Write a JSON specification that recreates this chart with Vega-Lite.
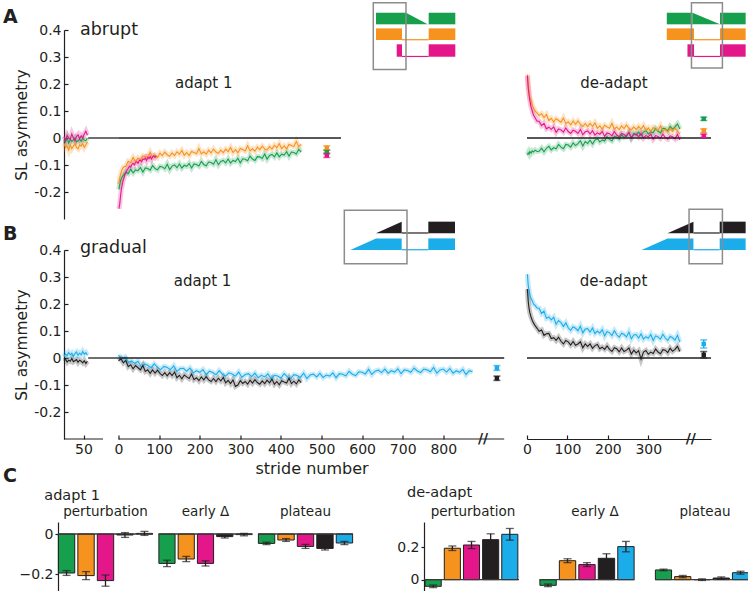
{
"$schema":"https://vega.github.io/schema/vega-lite/v6.json",
"padding":{"left":2,"top":1,"right":0,"bottom":0},
"config":{"font":"DejaVu Sans","view":{"stroke":null},"legend":{"disable":true},
"axis":{"grid":false,"domainColor":"#231f20","tickColor":"#231f20","labelColor":"#231f20","titleColor":"#231f20","labelFont":"DejaVu Sans","titleFont":"DejaVu Sans","labelFontSize":14,"titleFontSize":15.5,"titleFontWeight":"normal","domainWidth":1.2,"tickWidth":1.2}},
"datasets":{
"baseA":[{"c":"g","x":25,"y":-0.01},{"c":"g","x":27,"y":-0.015},{"c":"g","x":29,"y":0.0},{"c":"g","x":31,"y":-0.02},{"c":"g","x":33,"y":-0.005},{"c":"g","x":35,"y":-0.012},{"c":"g","x":37,"y":-0.008},{"c":"g","x":39,"y":0.0},{"c":"g","x":41,"y":-0.015},{"c":"g","x":43,"y":-0.01},{"c":"g","x":45,"y":-0.005},{"c":"g","x":47,"y":-0.012},{"c":"g","x":49,"y":0.0},{"c":"g","x":51,"y":-0.008},{"c":"g","x":53,"y":-0.01},{"c":"g","x":55,"y":0.0},
{"c":"o","x":25,"y":-0.02},{"c":"o","x":27,"y":-0.035},{"c":"o","x":29,"y":-0.03},{"c":"o","x":31,"y":-0.045},{"c":"o","x":33,"y":-0.025},{"c":"o","x":35,"y":-0.04},{"c":"o","x":37,"y":-0.03},{"c":"o","x":39,"y":-0.02},{"c":"o","x":41,"y":-0.035},{"c":"o","x":43,"y":-0.04},{"c":"o","x":45,"y":-0.025},{"c":"o","x":47,"y":-0.03},{"c":"o","x":49,"y":-0.02},{"c":"o","x":51,"y":-0.035},{"c":"o","x":53,"y":-0.025},{"c":"o","x":55,"y":-0.015},
{"c":"m","x":25,"y":0.005},{"c":"m","x":27,"y":-0.01},{"c":"m","x":29,"y":0.01},{"c":"m","x":31,"y":0.0},{"c":"m","x":33,"y":-0.005},{"c":"m","x":35,"y":0.015},{"c":"m","x":37,"y":0.0},{"c":"m","x":39,"y":-0.01},{"c":"m","x":41,"y":0.005},{"c":"m","x":43,"y":0.012},{"c":"m","x":45,"y":-0.003},{"c":"m","x":47,"y":0.008},{"c":"m","x":49,"y":0.0},{"c":"m","x":51,"y":0.015},{"c":"m","x":53,"y":0.025},{"c":"m","x":55,"y":0.01}],
"baseB":[{"c":"k","x":25,"y":-0.01},{"c":"k","x":27,"y":-0.005},{"c":"k","x":29,"y":-0.015},{"c":"k","x":31,"y":-0.008},{"c":"k","x":33,"y":-0.012},{"c":"k","x":35,"y":-0.002},{"c":"k","x":37,"y":-0.014},{"c":"k","x":39,"y":-0.01},{"c":"k","x":41,"y":-0.006},{"c":"k","x":43,"y":-0.016},{"c":"k","x":45,"y":-0.008},{"c":"k","x":47,"y":-0.012},{"c":"k","x":49,"y":-0.018},{"c":"k","x":51,"y":-0.01},{"c":"k","x":53,"y":-0.02},{"c":"k","x":55,"y":-0.012},
{"c":"b","x":25,"y":0.005},{"c":"b","x":27,"y":0.015},{"c":"b","x":29,"y":0.008},{"c":"b","x":31,"y":0.02},{"c":"b","x":33,"y":0.012},{"c":"b","x":35,"y":0.018},{"c":"b","x":37,"y":0.006},{"c":"b","x":39,"y":0.016},{"c":"b","x":41,"y":0.022},{"c":"b","x":43,"y":0.01},{"c":"b","x":45,"y":0.018},{"c":"b","x":47,"y":0.012},{"c":"b","x":49,"y":0.024},{"c":"b","x":51,"y":0.014},{"c":"b","x":53,"y":0.02},{"c":"b","x":55,"y":0.01}],
"adA":[{"c":"g","x":1,"y":-0.19},{"c":"g","x":3,"y":-0.172},{"c":"g","x":5,"y":-0.158},{"c":"g","x":8,"y":-0.147},{"c":"g","x":12,"y":-0.138},{"c":"g","x":18,"y":-0.126},{"c":"g","x":24,"y":-0.132},{"c":"g","x":30,"y":-0.116},{"c":"g","x":36,"y":-0.129},{"c":"g","x":42,"y":-0.118},{"c":"g","x":48,"y":-0.121},{"c":"g","x":54,"y":-0.109},{"c":"g","x":60,"y":-0.126},{"c":"g","x":66,"y":-0.111},{"c":"g","x":72,"y":-0.113},{"c":"g","x":78,"y":-0.119},{"c":"g","x":84,"y":-0.102},{"c":"g","x":90,"y":-0.113},{"c":"g","x":96,"y":-0.118},{"c":"g","x":102,"y":-0.105},{"c":"g","x":108,"y":-0.107},{"c":"g","x":114,"y":-0.114},{"c":"g","x":120,"y":-0.097},{"c":"g","x":126,"y":-0.117},{"c":"g","x":132,"y":-0.104},{"c":"g","x":138,"y":-0.1},{"c":"g","x":144,"y":-0.11},{"c":"g","x":150,"y":-0.096},{"c":"g","x":156,"y":-0.111},{"c":"g","x":162,"y":-0.101},{"c":"g","x":168,"y":-0.105},{"c":"g","x":174,"y":-0.094},{"c":"g","x":180,"y":-0.111},{"c":"g","x":186,"y":-0.096},{"c":"g","x":192,"y":-0.098},{"c":"g","x":198,"y":-0.104},{"c":"g","x":204,"y":-0.087},{"c":"g","x":210,"y":-0.098},{"c":"g","x":216,"y":-0.103},{"c":"g","x":222,"y":-0.089},{"c":"g","x":228,"y":-0.091},{"c":"g","x":234,"y":-0.097},{"c":"g","x":240,"y":-0.08},{"c":"g","x":246,"y":-0.099},{"c":"g","x":252,"y":-0.087},{"c":"g","x":258,"y":-0.083},{"c":"g","x":264,"y":-0.092},{"c":"g","x":270,"y":-0.078},{"c":"g","x":276,"y":-0.093},{"c":"g","x":282,"y":-0.083},{"c":"g","x":288,"y":-0.087},{"c":"g","x":294,"y":-0.075},{"c":"g","x":300,"y":-0.092},{"c":"g","x":306,"y":-0.077},{"c":"g","x":312,"y":-0.079},{"c":"g","x":318,"y":-0.084},{"c":"g","x":324,"y":-0.067},{"c":"g","x":330,"y":-0.078},{"c":"g","x":336,"y":-0.083},{"c":"g","x":342,"y":-0.069},{"c":"g","x":348,"y":-0.07},{"c":"g","x":354,"y":-0.076},{"c":"g","x":360,"y":-0.059},{"c":"g","x":366,"y":-0.078},{"c":"g","x":372,"y":-0.065},{"c":"g","x":378,"y":-0.061},{"c":"g","x":384,"y":-0.07},{"c":"g","x":390,"y":-0.055},{"c":"g","x":396,"y":-0.07},{"c":"g","x":402,"y":-0.06},{"c":"g","x":408,"y":-0.063},{"c":"g","x":414,"y":-0.051},{"c":"g","x":420,"y":-0.067},{"c":"g","x":426,"y":-0.052},{"c":"g","x":432,"y":-0.054},{"c":"g","x":438,"y":-0.059},{"c":"g","x":444,"y":-0.042},{"c":"g","x":450,"y":-0.052},
{"c":"o","x":1,"y":-0.172},{"c":"o","x":3,"y":-0.15},{"c":"o","x":5,"y":-0.135},{"c":"o","x":8,"y":-0.12},{"c":"o","x":12,"y":-0.108},{"c":"o","x":18,"y":-0.105},{"c":"o","x":24,"y":-0.086},{"c":"o","x":30,"y":-0.091},{"c":"o","x":36,"y":-0.072},{"c":"o","x":42,"y":-0.087},{"c":"o","x":48,"y":-0.074},{"c":"o","x":54,"y":-0.083},{"c":"o","x":60,"y":-0.066},{"c":"o","x":66,"y":-0.069},{"c":"o","x":72,"y":-0.072},{"c":"o","x":78,"y":-0.053},{"c":"o","x":84,"y":-0.072},{"c":"o","x":90,"y":-0.063},{"c":"o","x":96,"y":-0.072},{"c":"o","x":102,"y":-0.056},{"c":"o","x":108,"y":-0.065},{"c":"o","x":114,"y":-0.052},{"c":"o","x":120,"y":-0.062},{"c":"o","x":126,"y":-0.068},{"c":"o","x":132,"y":-0.055},{"c":"o","x":138,"y":-0.065},{"c":"o","x":144,"y":-0.051},{"c":"o","x":150,"y":-0.06},{"c":"o","x":156,"y":-0.046},{"c":"o","x":162,"y":-0.064},{"c":"o","x":168,"y":-0.054},{"c":"o","x":174,"y":-0.065},{"c":"o","x":180,"y":-0.05},{"c":"o","x":186,"y":-0.054},{"c":"o","x":192,"y":-0.058},{"c":"o","x":198,"y":-0.039},{"c":"o","x":204,"y":-0.059},{"c":"o","x":210,"y":-0.051},{"c":"o","x":216,"y":-0.06},{"c":"o","x":222,"y":-0.045},{"c":"o","x":228,"y":-0.055},{"c":"o","x":234,"y":-0.041},{"c":"o","x":240,"y":-0.052},{"c":"o","x":246,"y":-0.057},{"c":"o","x":252,"y":-0.045},{"c":"o","x":258,"y":-0.054},{"c":"o","x":264,"y":-0.041},{"c":"o","x":270,"y":-0.05},{"c":"o","x":276,"y":-0.035},{"c":"o","x":282,"y":-0.054},{"c":"o","x":288,"y":-0.043},{"c":"o","x":294,"y":-0.055},{"c":"o","x":300,"y":-0.039},{"c":"o","x":306,"y":-0.043},{"c":"o","x":312,"y":-0.048},{"c":"o","x":318,"y":-0.029},{"c":"o","x":324,"y":-0.048},{"c":"o","x":330,"y":-0.04},{"c":"o","x":336,"y":-0.049},{"c":"o","x":342,"y":-0.034},{"c":"o","x":348,"y":-0.043},{"c":"o","x":354,"y":-0.03},{"c":"o","x":360,"y":-0.04},{"c":"o","x":366,"y":-0.045},{"c":"o","x":372,"y":-0.032},{"c":"o","x":378,"y":-0.041},{"c":"o","x":384,"y":-0.027},{"c":"o","x":390,"y":-0.036},{"c":"o","x":396,"y":-0.021},{"c":"o","x":402,"y":-0.04},{"c":"o","x":408,"y":-0.029},{"c":"o","x":414,"y":-0.04},{"c":"o","x":420,"y":-0.024},{"c":"o","x":426,"y":-0.028},{"c":"o","x":432,"y":-0.032},{"c":"o","x":438,"y":-0.013},{"c":"o","x":444,"y":-0.032},{"c":"o","x":450,"y":-0.023},
{"c":"m","x":1,"y":-0.262},{"c":"m","x":3,"y":-0.245},{"c":"m","x":5,"y":-0.215},{"c":"m","x":7,"y":-0.19},{"c":"m","x":9,"y":-0.175},{"c":"m","x":11,"y":-0.16},{"c":"m","x":13,"y":-0.15},{"c":"m","x":15,"y":-0.138},{"c":"m","x":18,"y":-0.13},{"c":"m","x":21,"y":-0.118},{"c":"m","x":24,"y":-0.112},{"c":"m","x":27,"y":-0.104},{"c":"m","x":30,"y":-0.108},{"c":"m","x":33,"y":-0.098},{"c":"m","x":36,"y":-0.094},{"c":"m","x":39,"y":-0.1},{"c":"m","x":42,"y":-0.09},{"c":"m","x":45,"y":-0.088},{"c":"m","x":48,"y":-0.094},{"c":"m","x":51,"y":-0.084},{"c":"m","x":54,"y":-0.082},{"c":"m","x":57,"y":-0.088},{"c":"m","x":60,"y":-0.078},{"c":"m","x":63,"y":-0.08},{"c":"m","x":66,"y":-0.074},{"c":"m","x":69,"y":-0.084},{"c":"m","x":72,"y":-0.072},{"c":"m","x":75,"y":-0.076},{"c":"m","x":78,"y":-0.068},{"c":"m","x":81,"y":-0.078},{"c":"m","x":84,"y":-0.07},{"c":"m","x":87,"y":-0.066},{"c":"m","x":90,"y":-0.072},{"c":"m","x":93,"y":-0.066}],
"deA":[{"c":"g","x":1,"y":-0.062},{"c":"g","x":3,"y":-0.055},{"c":"g","x":5,"y":-0.06},{"c":"g","x":7,"y":-0.05},{"c":"g","x":10,"y":-0.056},{"c":"g","x":13,"y":-0.048},{"c":"g","x":16,"y":-0.052},{"c":"g","x":20,"y":-0.045},{"c":"g","x":25,"y":-0.05},{"c":"g","x":30,"y":-0.049},{"c":"g","x":36,"y":-0.038},{"c":"g","x":42,"y":-0.051},{"c":"g","x":48,"y":-0.038},{"c":"g","x":54,"y":-0.031},{"c":"g","x":60,"y":-0.044},{"c":"g","x":66,"y":-0.036},{"c":"g","x":72,"y":-0.04},{"c":"g","x":78,"y":-0.024},{"c":"g","x":84,"y":-0.034},{"c":"g","x":90,"y":-0.04},{"c":"g","x":96,"y":-0.024},{"c":"g","x":102,"y":-0.026},{"c":"g","x":108,"y":-0.034},{"c":"g","x":114,"y":-0.018},{"c":"g","x":120,"y":-0.028},{"c":"g","x":126,"y":-0.021},{"c":"g","x":132,"y":-0.01},{"c":"g","x":138,"y":-0.03},{"c":"g","x":144,"y":-0.013},{"c":"g","x":150,"y":-0.02},{"c":"g","x":156,"y":-0.008},{"c":"g","x":162,"y":-0.022},{"c":"g","x":168,"y":-0.008},{"c":"g","x":174,"y":-0.002},{"c":"g","x":180,"y":-0.015},{"c":"g","x":186,"y":-0.007},{"c":"g","x":192,"y":-0.011},{"c":"g","x":198,"y":0.005},{"c":"g","x":204,"y":-0.005},{"c":"g","x":210,"y":-0.011},{"c":"g","x":216,"y":0.006},{"c":"g","x":222,"y":0.004},{"c":"g","x":228,"y":-0.004},{"c":"g","x":234,"y":0.012},{"c":"g","x":240,"y":0.002},{"c":"g","x":246,"y":0.009},{"c":"g","x":252,"y":0.02},{"c":"g","x":258,"y":0.0},{"c":"g","x":264,"y":0.017},{"c":"g","x":270,"y":0.01},{"c":"g","x":276,"y":0.022},{"c":"g","x":282,"y":0.008},{"c":"g","x":288,"y":0.022},{"c":"g","x":294,"y":0.028},{"c":"g","x":300,"y":0.015},{"c":"g","x":306,"y":0.023},{"c":"g","x":312,"y":0.019},{"c":"g","x":318,"y":0.035},{"c":"g","x":324,"y":0.025},{"c":"g","x":330,"y":0.019},{"c":"g","x":336,"y":0.036},{"c":"g","x":342,"y":0.034},{"c":"g","x":348,"y":0.026},{"c":"g","x":354,"y":0.043},{"c":"g","x":360,"y":0.033},{"c":"g","x":366,"y":0.041},{"c":"g","x":372,"y":0.052},{"c":"g","x":378,"y":0.033},
{"c":"o","x":1,"y":0.235},{"c":"o","x":3,"y":0.2},{"c":"o","x":5,"y":0.175},{"c":"o","x":7,"y":0.15},{"c":"o","x":10,"y":0.14},{"c":"o","x":13,"y":0.12},{"c":"o","x":16,"y":0.112},{"c":"o","x":20,"y":0.1},{"c":"o","x":25,"y":0.092},{"c":"o","x":30,"y":0.083},{"c":"o","x":36,"y":0.09},{"c":"o","x":42,"y":0.076},{"c":"o","x":48,"y":0.087},{"c":"o","x":54,"y":0.065},{"c":"o","x":60,"y":0.073},{"c":"o","x":66,"y":0.059},{"c":"o","x":72,"y":0.072},{"c":"o","x":78,"y":0.065},{"c":"o","x":84,"y":0.058},{"c":"o","x":90,"y":0.074},{"c":"o","x":96,"y":0.053},{"c":"o","x":102,"y":0.06},{"c":"o","x":108,"y":0.049},{"c":"o","x":114,"y":0.063},{"c":"o","x":120,"y":0.051},{"c":"o","x":126,"y":0.063},{"c":"o","x":132,"y":0.051},{"c":"o","x":138,"y":0.043},{"c":"o","x":144,"y":0.053},{"c":"o","x":150,"y":0.042},{"c":"o","x":156,"y":0.054},{"c":"o","x":162,"y":0.043},{"c":"o","x":168,"y":0.056},{"c":"o","x":174,"y":0.036},{"c":"o","x":180,"y":0.045},{"c":"o","x":186,"y":0.033},{"c":"o","x":192,"y":0.047},{"c":"o","x":198,"y":0.041},{"c":"o","x":204,"y":0.036},{"c":"o","x":210,"y":0.054},{"c":"o","x":216,"y":0.033},{"c":"o","x":222,"y":0.041},{"c":"o","x":228,"y":0.031},{"c":"o","x":234,"y":0.045},{"c":"o","x":240,"y":0.035},{"c":"o","x":246,"y":0.048},{"c":"o","x":252,"y":0.036},{"c":"o","x":258,"y":0.03},{"c":"o","x":264,"y":0.041},{"c":"o","x":270,"y":0.031},{"c":"o","x":276,"y":0.043},{"c":"o","x":282,"y":0.033},{"c":"o","x":288,"y":0.046},{"c":"o","x":294,"y":0.027},{"c":"o","x":300,"y":0.037},{"c":"o","x":306,"y":0.024},{"c":"o","x":312,"y":0.039},{"c":"o","x":318,"y":0.033},{"c":"o","x":324,"y":0.028},{"c":"o","x":330,"y":0.045},{"c":"o","x":336,"y":0.025},{"c":"o","x":342,"y":0.032},{"c":"o","x":348,"y":0.022},{"c":"o","x":354,"y":0.036},{"c":"o","x":360,"y":0.025},{"c":"o","x":366,"y":0.037},{"c":"o","x":372,"y":0.024},{"c":"o","x":378,"y":0.015},
{"c":"m","x":1,"y":0.23},{"c":"m","x":3,"y":0.185},{"c":"m","x":5,"y":0.16},{"c":"m","x":7,"y":0.14},{"c":"m","x":10,"y":0.115},{"c":"m","x":13,"y":0.1},{"c":"m","x":16,"y":0.085},{"c":"m","x":20,"y":0.075},{"c":"m","x":25,"y":0.062},{"c":"m","x":30,"y":0.062},{"c":"m","x":36,"y":0.046},{"c":"m","x":42,"y":0.054},{"c":"m","x":48,"y":0.034},{"c":"m","x":54,"y":0.04},{"c":"m","x":60,"y":0.032},{"c":"m","x":66,"y":0.041},{"c":"m","x":72,"y":0.021},{"c":"m","x":78,"y":0.034},{"c":"m","x":84,"y":0.03},{"c":"m","x":90,"y":0.022},{"c":"m","x":96,"y":0.037},{"c":"m","x":102,"y":0.024},{"c":"m","x":108,"y":0.017},{"c":"m","x":114,"y":0.029},{"c":"m","x":120,"y":0.025},{"c":"m","x":126,"y":0.017},{"c":"m","x":132,"y":0.032},{"c":"m","x":138,"y":0.012},{"c":"m","x":144,"y":0.023},{"c":"m","x":150,"y":0.026},{"c":"m","x":156,"y":0.015},{"c":"m","x":162,"y":0.027},{"c":"m","x":168,"y":0.011},{"c":"m","x":174,"y":0.019},{"c":"m","x":180,"y":0.014},{"c":"m","x":186,"y":0.024},{"c":"m","x":192,"y":0.006},{"c":"m","x":198,"y":0.019},{"c":"m","x":204,"y":0.016},{"c":"m","x":210,"y":0.008},{"c":"m","x":216,"y":0.024},{"c":"m","x":222,"y":0.011},{"c":"m","x":228,"y":0.005},{"c":"m","x":234,"y":0.017},{"c":"m","x":240,"y":0.013},{"c":"m","x":246,"y":0.006},{"c":"m","x":252,"y":0.021},{"c":"m","x":258,"y":0.001},{"c":"m","x":264,"y":0.012},{"c":"m","x":270,"y":0.015},{"c":"m","x":276,"y":0.004},{"c":"m","x":282,"y":0.017},{"c":"m","x":288,"y":0.0},{"c":"m","x":294,"y":0.009},{"c":"m","x":300,"y":0.004},{"c":"m","x":306,"y":0.014},{"c":"m","x":312,"y":-0.004},{"c":"m","x":318,"y":0.009},{"c":"m","x":324,"y":0.006},{"c":"m","x":330,"y":-0.001},{"c":"m","x":336,"y":0.014},{"c":"m","x":342,"y":0.002},{"c":"m","x":348,"y":-0.004},{"c":"m","x":354,"y":0.008},{"c":"m","x":360,"y":0.005},{"c":"m","x":366,"y":-0.003},{"c":"m","x":372,"y":0.013},{"c":"m","x":378,"y":-0.007}],
"adB":[{"c":"b","x":0,"y":0.011},{"c":"b","x":8,"y":-0.003},{"c":"b","x":16,"y":0.004},{"c":"b","x":24,"y":-0.017},{"c":"b","x":32,"y":-0.011},{"c":"b","x":40,"y":-0.02},{"c":"b","x":48,"y":-0.012},{"c":"b","x":56,"y":-0.033},{"c":"b","x":64,"y":-0.022},{"c":"b","x":72,"y":-0.027},{"c":"b","x":80,"y":-0.036},{"c":"b","x":88,"y":-0.022},{"c":"b","x":96,"y":-0.035},{"c":"b","x":104,"y":-0.043},{"c":"b","x":112,"y":-0.031},{"c":"b","x":120,"y":-0.035},{"c":"b","x":128,"y":-0.043},{"c":"b","x":136,"y":-0.029},{"c":"b","x":144,"y":-0.05},{"c":"b","x":152,"y":-0.039},{"c":"b","x":160,"y":-0.038},{"c":"b","x":168,"y":-0.049},{"c":"b","x":176,"y":-0.037},{"c":"b","x":184,"y":-0.055},{"c":"b","x":192,"y":-0.047},{"c":"b","x":200,"y":-0.053},{"c":"b","x":208,"y":-0.043},{"c":"b","x":216,"y":-0.062},{"c":"b","x":224,"y":-0.049},{"c":"b","x":232,"y":-0.054},{"c":"b","x":240,"y":-0.062},{"c":"b","x":248,"y":-0.047},{"c":"b","x":256,"y":-0.06},{"c":"b","x":264,"y":-0.067},{"c":"b","x":272,"y":-0.055},{"c":"b","x":280,"y":-0.059},{"c":"b","x":288,"y":-0.067},{"c":"b","x":296,"y":-0.052},{"c":"b","x":304,"y":-0.072},{"c":"b","x":312,"y":-0.061},{"c":"b","x":320,"y":-0.058},{"c":"b","x":328,"y":-0.069},{"c":"b","x":336,"y":-0.056},{"c":"b","x":344,"y":-0.073},{"c":"b","x":352,"y":-0.064},{"c":"b","x":360,"y":-0.07},{"c":"b","x":368,"y":-0.059},{"c":"b","x":376,"y":-0.077},{"c":"b","x":384,"y":-0.064},{"c":"b","x":392,"y":-0.067},{"c":"b","x":400,"y":-0.074},{"c":"b","x":408,"y":-0.058},{"c":"b","x":416,"y":-0.07},{"c":"b","x":424,"y":-0.076},{"c":"b","x":432,"y":-0.062},{"c":"b","x":440,"y":-0.065},{"c":"b","x":448,"y":-0.072},{"c":"b","x":456,"y":-0.056},{"c":"b","x":464,"y":-0.076},{"c":"b","x":472,"y":-0.063},{"c":"b","x":480,"y":-0.06},{"c":"b","x":488,"y":-0.07},{"c":"b","x":496,"y":-0.057},{"c":"b","x":504,"y":-0.072},{"c":"b","x":512,"y":-0.063},{"c":"b","x":520,"y":-0.067},{"c":"b","x":528,"y":-0.055},{"c":"b","x":536,"y":-0.073},{"c":"b","x":544,"y":-0.058},{"c":"b","x":552,"y":-0.06},{"c":"b","x":560,"y":-0.066},{"c":"b","x":568,"y":-0.049},{"c":"b","x":576,"y":-0.06},{"c":"b","x":584,"y":-0.065},{"c":"b","x":592,"y":-0.051},{"c":"b","x":600,"y":-0.053},{"c":"b","x":608,"y":-0.059},{"c":"b","x":616,"y":-0.042},{"c":"b","x":624,"y":-0.061},{"c":"b","x":632,"y":-0.049},{"c":"b","x":640,"y":-0.045},{"c":"b","x":648,"y":-0.054},{"c":"b","x":656,"y":-0.041},{"c":"b","x":664,"y":-0.056},{"c":"b","x":672,"y":-0.047},{"c":"b","x":680,"y":-0.052},{"c":"b","x":688,"y":-0.04},{"c":"b","x":696,"y":-0.058},{"c":"b","x":704,"y":-0.044},{"c":"b","x":712,"y":-0.046},{"c":"b","x":720,"y":-0.053},{"c":"b","x":728,"y":-0.037},{"c":"b","x":736,"y":-0.048},{"c":"b","x":744,"y":-0.054},{"c":"b","x":752,"y":-0.041},{"c":"b","x":760,"y":-0.044},{"c":"b","x":768,"y":-0.051},{"c":"b","x":776,"y":-0.035},{"c":"b","x":784,"y":-0.056},{"c":"b","x":792,"y":-0.044},{"c":"b","x":800,"y":-0.041},{"c":"b","x":808,"y":-0.052},{"c":"b","x":816,"y":-0.039},{"c":"b","x":824,"y":-0.056},{"c":"b","x":832,"y":-0.047},{"c":"b","x":840,"y":-0.053},{"c":"b","x":848,"y":-0.042},{"c":"b","x":856,"y":-0.061},{"c":"b","x":864,"y":-0.047},{"c":"b","x":872,"y":-0.051},
{"c":"k","x":0,"y":-0.01},{"c":"k","x":6,"y":-0.003},{"c":"k","x":12,"y":-0.018},{"c":"k","x":18,"y":-0.009},{"c":"k","x":24,"y":-0.032},{"c":"k","x":30,"y":-0.025},{"c":"k","x":36,"y":-0.04},{"c":"k","x":42,"y":-0.028},{"c":"k","x":48,"y":-0.036},{"c":"k","x":54,"y":-0.044},{"c":"k","x":60,"y":-0.028},{"c":"k","x":66,"y":-0.05},{"c":"k","x":72,"y":-0.044},{"c":"k","x":78,"y":-0.057},{"c":"k","x":84,"y":-0.044},{"c":"k","x":90,"y":-0.056},{"c":"k","x":96,"y":-0.045},{"c":"k","x":102,"y":-0.057},{"c":"k","x":108,"y":-0.065},{"c":"k","x":114,"y":-0.054},{"c":"k","x":120,"y":-0.066},{"c":"k","x":126,"y":-0.054},{"c":"k","x":132,"y":-0.065},{"c":"k","x":138,"y":-0.052},{"c":"k","x":144,"y":-0.073},{"c":"k","x":150,"y":-0.064},{"c":"k","x":156,"y":-0.077},{"c":"k","x":162,"y":-0.063},{"c":"k","x":168,"y":-0.07},{"c":"k","x":174,"y":-0.076},{"c":"k","x":180,"y":-0.059},{"c":"k","x":186,"y":-0.08},{"c":"k","x":192,"y":-0.073},{"c":"k","x":198,"y":-0.084},{"c":"k","x":204,"y":-0.07},{"c":"k","x":210,"y":-0.081},{"c":"k","x":216,"y":-0.069},{"c":"k","x":222,"y":-0.081},{"c":"k","x":228,"y":-0.087},{"c":"k","x":234,"y":-0.076},{"c":"k","x":240,"y":-0.087},{"c":"k","x":246,"y":-0.075},{"c":"k","x":252,"y":-0.085},{"c":"k","x":258,"y":-0.072},{"c":"k","x":264,"y":-0.092},{"c":"k","x":270,"y":-0.083},{"c":"k","x":276,"y":-0.095},{"c":"k","x":282,"y":-0.081},{"c":"k","x":288,"y":-0.105},{"c":"k","x":294,"y":-0.1},{"c":"k","x":300,"y":-0.084},{"c":"k","x":306,"y":-0.094},{"c":"k","x":312,"y":-0.087},{"c":"k","x":318,"y":-0.097},{"c":"k","x":324,"y":-0.082},{"c":"k","x":330,"y":-0.093},{"c":"k","x":336,"y":-0.08},{"c":"k","x":342,"y":-0.091},{"c":"k","x":348,"y":-0.097},{"c":"k","x":354,"y":-0.085},{"c":"k","x":360,"y":-0.095},{"c":"k","x":366,"y":-0.082},{"c":"k","x":372,"y":-0.092},{"c":"k","x":378,"y":-0.078},{"c":"k","x":384,"y":-0.097},{"c":"k","x":390,"y":-0.087},{"c":"k","x":396,"y":-0.099},{"c":"k","x":402,"y":-0.084},{"c":"k","x":408,"y":-0.089},{"c":"k","x":414,"y":-0.093},{"c":"k","x":420,"y":-0.075},{"c":"k","x":426,"y":-0.095},{"c":"k","x":432,"y":-0.086},{"c":"k","x":438,"y":-0.096},{"c":"k","x":444,"y":-0.081},{"c":"k","x":450,"y":-0.091}],
"deB":[{"c":"b","x":1,"y":0.31},{"c":"b","x":3,"y":0.27},{"c":"b","x":5,"y":0.25},{"c":"b","x":7,"y":0.235},{"c":"b","x":10,"y":0.22},{"c":"b","x":13,"y":0.212},{"c":"b","x":16,"y":0.2},{"c":"b","x":20,"y":0.195},{"c":"b","x":25,"y":0.185},{"c":"b","x":30,"y":0.184},{"c":"b","x":36,"y":0.165},{"c":"b","x":42,"y":0.174},{"c":"b","x":48,"y":0.147},{"c":"b","x":54,"y":0.152},{"c":"b","x":60,"y":0.141},{"c":"b","x":66,"y":0.151},{"c":"b","x":72,"y":0.125},{"c":"b","x":78,"y":0.139},{"c":"b","x":84,"y":0.131},{"c":"b","x":90,"y":0.117},{"c":"b","x":96,"y":0.13},{"c":"b","x":102,"y":0.112},{"c":"b","x":108,"y":0.102},{"c":"b","x":114,"y":0.116},{"c":"b","x":120,"y":0.11},{"c":"b","x":126,"y":0.101},{"c":"b","x":132,"y":0.118},{"c":"b","x":138,"y":0.093},{"c":"b","x":144,"y":0.107},{"c":"b","x":150,"y":0.109},{"c":"b","x":156,"y":0.096},{"c":"b","x":162,"y":0.111},{"c":"b","x":168,"y":0.091},{"c":"b","x":174,"y":0.1},{"c":"b","x":180,"y":0.092},{"c":"b","x":186,"y":0.105},{"c":"b","x":192,"y":0.082},{"c":"b","x":198,"y":0.098},{"c":"b","x":204,"y":0.093},{"c":"b","x":210,"y":0.083},{"c":"b","x":216,"y":0.101},{"c":"b","x":222,"y":0.086},{"c":"b","x":228,"y":0.077},{"c":"b","x":234,"y":0.092},{"c":"b","x":240,"y":0.087},{"c":"b","x":246,"y":0.078},{"c":"b","x":252,"y":0.096},{"c":"b","x":258,"y":0.071},{"c":"b","x":264,"y":0.085},{"c":"b","x":270,"y":0.087},{"c":"b","x":276,"y":0.074},{"c":"b","x":282,"y":0.089},{"c":"b","x":288,"y":0.07},{"c":"b","x":294,"y":0.079},{"c":"b","x":300,"y":0.073},{"c":"b","x":306,"y":0.087},{"c":"b","x":312,"y":0.065},{"c":"b","x":318,"y":0.082},{"c":"b","x":324,"y":0.078},{"c":"b","x":330,"y":0.07},{"c":"b","x":336,"y":0.088},{"c":"b","x":342,"y":0.074},{"c":"b","x":348,"y":0.065},{"c":"b","x":354,"y":0.08},{"c":"b","x":360,"y":0.075},{"c":"b","x":366,"y":0.066},{"c":"b","x":372,"y":0.084},{"c":"b","x":378,"y":0.059},
{"c":"k","x":1,"y":0.255},{"c":"k","x":3,"y":0.21},{"c":"k","x":5,"y":0.185},{"c":"k","x":7,"y":0.168},{"c":"k","x":10,"y":0.152},{"c":"k","x":13,"y":0.14},{"c":"k","x":16,"y":0.13},{"c":"k","x":20,"y":0.12},{"c":"k","x":25,"y":0.11},{"c":"k","x":30,"y":0.099},{"c":"k","x":36,"y":0.104},{"c":"k","x":42,"y":0.084},{"c":"k","x":48,"y":0.09},{"c":"k","x":54,"y":0.091},{"c":"k","x":60,"y":0.072},{"c":"k","x":66,"y":0.075},{"c":"k","x":72,"y":0.065},{"c":"k","x":78,"y":0.077},{"c":"k","x":84,"y":0.062},{"c":"k","x":90,"y":0.052},{"c":"k","x":96,"y":0.065},{"c":"k","x":102,"y":0.06},{"c":"k","x":108,"y":0.048},{"c":"k","x":114,"y":0.061},{"c":"k","x":120,"y":0.047},{"c":"k","x":126,"y":0.052},{"c":"k","x":132,"y":0.06},{"c":"k","x":138,"y":0.038},{"c":"k","x":144,"y":0.052},{"c":"k","x":150,"y":0.043},{"c":"k","x":156,"y":0.052},{"c":"k","x":162,"y":0.036},{"c":"k","x":168,"y":0.046},{"c":"k","x":174,"y":0.05},{"c":"k","x":180,"y":0.034},{"c":"k","x":186,"y":0.04},{"c":"k","x":192,"y":0.032},{"c":"k","x":198,"y":0.045},{"c":"k","x":204,"y":0.032},{"c":"k","x":210,"y":0.024},{"c":"k","x":216,"y":0.038},{"c":"k","x":222,"y":0.034},{"c":"k","x":228,"y":0.023},{"c":"k","x":234,"y":0.037},{"c":"k","x":240,"y":0.024},{"c":"k","x":246,"y":0.029},{"c":"k","x":252,"y":0.037},{"c":"k","x":258,"y":0.015},{"c":"k","x":264,"y":0.029},{"c":"k","x":270,"y":0.019},{"c":"k","x":276,"y":0.027},{"c":"k","x":282,"y":-0.004},{"c":"k","x":288,"y":0.022},{"c":"k","x":294,"y":0.028},{"c":"k","x":300,"y":0.014},{"c":"k","x":306,"y":0.022},{"c":"k","x":312,"y":0.017},{"c":"k","x":318,"y":0.033},{"c":"k","x":324,"y":0.022},{"c":"k","x":330,"y":0.016},{"c":"k","x":336,"y":0.031},{"c":"k","x":342,"y":0.029},{"c":"k","x":348,"y":0.02},{"c":"k","x":354,"y":0.036},{"c":"k","x":360,"y":0.025},{"c":"k","x":366,"y":0.032},{"c":"k","x":372,"y":0.043},{"c":"k","x":378,"y":0.024}],
"cL":[{"g":"p","c":"g","v":-0.195,"e":0.012},{"g":"p","c":"o","v":-0.208,"e":0.02},{"g":"p","c":"m","v":-0.233,"e":0.028},{"g":"p","c":"k","v":-0.005,"e":0.012},{"g":"p","c":"b","v":0.003,"e":0.01},
{"g":"e","c":"g","v":-0.147,"e":0.016},{"g":"e","c":"o","v":-0.125,"e":0.013},{"g":"e","c":"m","v":-0.147,"e":0.013},{"g":"e","c":"k","v":-0.013,"e":0.007},{"g":"e","c":"b","v":-0.003,"e":0.006},
{"g":"l","c":"g","v":-0.047,"e":0.006},{"g":"l","c":"o","v":-0.03,"e":0.007},{"g":"l","c":"m","v":-0.062,"e":0.01},{"g":"l","c":"k","v":-0.072,"e":0.008},{"g":"l","c":"b","v":-0.045,"e":0.008}],
"cR":[{"g":"p","c":"g","v":-0.041,"e":0.008},{"g":"p","c":"o","v":0.194,"e":0.014},{"g":"p","c":"m","v":0.214,"e":0.022},{"g":"p","c":"k","v":0.247,"e":0.036},{"g":"p","c":"b","v":0.28,"e":0.036},
{"g":"e","c":"g","v":-0.035,"e":0.008},{"g":"e","c":"o","v":0.117,"e":0.012},{"g":"e","c":"m","v":0.093,"e":0.012},{"g":"e","c":"k","v":0.132,"e":0.028},{"g":"e","c":"b","v":0.204,"e":0.032},
{"g":"l","c":"g","v":0.06,"e":0.005},{"g":"l","c":"o","v":0.019,"e":0.007},{"g":"l","c":"m","v":0.0,"e":0.005},{"g":"l","c":"k","v":0.01,"e":0.007},{"g":"l","c":"b","v":0.043,"e":0.009}]
},
"spacing":-9,
"vconcat":[
{"columns":3,"bounds":"flush","spacing":{"row":31,"column":15.5},
"concat":[
{"width":45,"height":189,
"encoding":{"x":{"field":"x","type":"quantitative","scale":{"domain":[17.3,75],"nice":false,"zero":false},"axis":null},
"y":{"field":"y","type":"quantitative","scale":{"domain":[-0.3,0.4],"nice":false,"zero":false},"axis":{"values":[-0.2,-0.1,0,0.1,0.2,0.3,0.4],"labelExpr":"datum.value == 0 ? '0' : replace(format(datum.value, '.1f'), '\u2212', '-')","title":"SL asymmetry","tickSize":-4,"labelPadding":7,"titlePadding":4,"offset":-6}},
"color":{"field":"c","type":"nominal","scale":{"domain":["g","o","m","k","b"],"range":["#16a04e","#f6921e","#e4178a","#231f20","#1badea"]},"legend":null}},
"layer":[
{"data":{"name":"baseA"},"mark":{"type":"line","strokeWidth":5,"opacity":0.25}},
{"data":{"name":"baseA"},"mark":{"type":"line","strokeWidth":1.1}},
{"data":{"values":[{"x":56,"x2":95,"y":0}]},"mark":{"type":"rule","strokeWidth":1.3},"encoding":{"x2":{"field":"x2"},"color":{"value":"#231f20"}}},
{"data":{"values":[{"x":25,"y":0.4,"t":"A"}]},"mark":{"type":"text","fontSize":19,"fontWeight":"bold","align":"left","baseline":"alphabetic","dx":-61,"dy":-7},"encoding":{"text":{"field":"t"},"color":{"value":"#231f20"}}},
{"data":{"values":[{"x":25,"y":0.4,"t":"abrupt"}]},"mark":{"type":"text","fontSize":17.5,"align":"left","baseline":"alphabetic","dx":16,"dy":5},"encoding":{"text":{"field":"t"},"color":{"value":"#231f20"}}}
]},
{"width":393,"height":189,
"encoding":{"x":{"field":"x","type":"quantitative","scale":{"domain":[0,968],"nice":false,"zero":false},"axis":null},
"y":{"field":"y","type":"quantitative","scale":{"domain":[-0.3,0.4],"nice":false,"zero":false},"axis":null},
"color":{"field":"c","type":"nominal","scale":{"domain":["g","o","m","k","b"],"range":["#16a04e","#f6921e","#e4178a","#231f20","#1badea"]},"legend":null}},
"layer":[
{"data":{"values":[{"c":"g","x":634.2,"x2":708.1,"y":0.464,"y2":0.421},{"c":"g","x":764.0,"x2":829.6,"y":0.464,"y2":0.421},{"c":"o","x":634.2,"x2":698.3,"y":0.406,"y2":0.363},{"c":"o","x":764.0,"x2":829.6,"y":0.406,"y2":0.363},{"c":"m","x":685.2,"x2":698.3,"y":0.347,"y2":0.301},{"c":"m","x":764.0,"x2":829.6,"y":0.347,"y2":0.301}]},"mark":"rect","encoding":{"x2":{"field":"x2"},"y2":{"field":"y2"}}},
{"data":{"values":[{"id":"w","c":"g","x":708.1,"y":0.464,"y2":0.421},{"id":"w","c":"g","x":761.6,"y":0.421,"y2":0.421}]},"mark":{"type":"area","orient":"vertical"},"encoding":{"y":{"field":"y","type":"quantitative","stack":null,"axis":null},"y2":{"field":"y2"},"detail":{"field":"id"}}},
{"data":{"values":[{"c":"o","x":698.3,"x2":764.0,"y":0.364},{"c":"m","x":698.3,"x2":764.0,"y":0.302}]},"mark":{"type":"rule","strokeWidth":1.2},"encoding":{"x2":{"field":"x2"}}},
{"data":{"values":[{"x":627.6,"x2":708.1,"y":0.501,"y2":0.254}]},"mark":{"type":"rect","filled":false,"strokeWidth":1.5},"encoding":{"x2":{"field":"x2"},"y2":{"field":"y2"},"color":{"value":"#8c8c8c"}}},
{"data":{"name":"adA"},"mark":{"type":"line","strokeWidth":5,"opacity":0.25}},
{"data":{"name":"adA"},"mark":{"type":"line","strokeWidth":1.1}},
{"data":{"values":[{"x":0,"x2":548,"y":0}]},"mark":{"type":"rule","strokeWidth":1.3},"encoding":{"x2":{"field":"x2"},"color":{"value":"#231f20"}}},
{"data":{"values":[{"c":"o","x":513,"y":-0.037,"e":0.008},{"c":"g","x":513,"y":-0.052,"e":0.007},{"c":"m","x":513,"y":-0.064,"e":0.008}]},"mark":{"type":"errorbar","ticks":true,"size":7,"thickness":1.5},"encoding":{"yError":{"field":"e"}}},
{"data":{"values":[{"c":"o","x":513,"y":-0.037},{"c":"g","x":513,"y":-0.052},{"c":"m","x":513,"y":-0.064}]},"mark":{"type":"point","shape":"square","filled":true,"size":20,"opacity":1}},
{"data":{"values":[{"x":210,"y":0.184,"t":"adapt 1"}]},"mark":{"type":"text","fontSize":15,"align":"center","baseline":"alphabetic"},"encoding":{"text":{"field":"t"},"color":{"value":"#231f20"}}}
]},
{"width":184,"height":189,
"encoding":{"x":{"field":"x","type":"quantitative","scale":{"domain":[0,455],"nice":false,"zero":false},"axis":null},
"y":{"field":"y","type":"quantitative","scale":{"domain":[-0.3,0.4],"nice":false,"zero":false},"axis":null},
"color":{"field":"c","type":"nominal","scale":{"domain":["g","o","m","k","b"],"range":["#16a04e","#f6921e","#e4178a","#231f20","#1badea"]},"legend":null}},
"layer":[
{"data":{"values":[{"c":"g","x":345.7,"x2":409.1,"y":0.464,"y2":0.421},{"c":"g","x":477.3,"x2":540.7,"y":0.464,"y2":0.421},{"c":"o","x":345.7,"x2":413.1,"y":0.406,"y2":0.363},{"c":"o","x":477.3,"x2":540.7,"y":0.406,"y2":0.363},{"c":"m","x":396.8,"x2":413.1,"y":0.347,"y2":0.301},{"c":"m","x":477.3,"x2":540.7,"y":0.347,"y2":0.301}]},"mark":"rect","encoding":{"x2":{"field":"x2"},"y2":{"field":"y2"}}},
{"data":{"values":[{"id":"w","c":"g","x":409.1,"y":0.464,"y2":0.421},{"id":"w","c":"g","x":477.3,"y":0.421,"y2":0.421}]},"mark":{"type":"area","orient":"vertical"},"encoding":{"y":{"field":"y","type":"quantitative","stack":null,"axis":null},"y2":{"field":"y2"},"detail":{"field":"id"}}},
{"data":{"values":[{"c":"o","x":413.1,"x2":477.3,"y":0.364},{"c":"m","x":413.1,"x2":477.3,"y":0.302}]},"mark":{"type":"rule","strokeWidth":1.2},"encoding":{"x2":{"field":"x2"}}},
{"data":{"values":[{"x":406.7,"x2":483.2,"y":0.501,"y2":0.259}]},"mark":{"type":"rect","filled":false,"strokeWidth":1.5},"encoding":{"x2":{"field":"x2"},"y2":{"field":"y2"},"color":{"value":"#8c8c8c"}}},
{"data":{"name":"deA"},"mark":{"type":"line","strokeWidth":5,"opacity":0.25}},
{"data":{"name":"deA"},"mark":{"type":"line","strokeWidth":1.1}},
{"data":{"values":[{"x":0,"x2":455,"y":0}]},"mark":{"type":"rule","strokeWidth":1.3},"encoding":{"x2":{"field":"x2"},"color":{"value":"#231f20"}}},
{"data":{"values":[{"c":"g","x":437,"y":0.071,"e":0.006},{"c":"o","x":437,"y":0.027,"e":0.007},{"c":"m","x":437,"y":0.008,"e":0.006}]},"mark":{"type":"errorbar","ticks":true,"size":7,"thickness":1.5},"encoding":{"yError":{"field":"e"}}},
{"data":{"values":[{"c":"g","x":437,"y":0.071},{"c":"o","x":437,"y":0.027},{"c":"m","x":437,"y":0.008}]},"mark":{"type":"point","shape":"square","filled":true,"size":20,"opacity":1}},
{"data":{"values":[{"x":215,"y":0.184,"t":"de-adapt"}]},"mark":{"type":"text","fontSize":15,"align":"center","baseline":"alphabetic"},"encoding":{"text":{"field":"t"},"color":{"value":"#231f20"}}}
]},
{"width":45,"height":189,
"encoding":{"x":{"field":"x","type":"quantitative","scale":{"domain":[17.3,75],"nice":false,"zero":false},"axis":{"values":[50],"title":null,"domain":false,"tickSize":-4,"labelPadding":7,"labelFlush":false}},
"y":{"field":"y","type":"quantitative","scale":{"domain":[-0.3,0.4],"nice":false,"zero":false},"axis":{"values":[-0.2,-0.1,0,0.1,0.2,0.3,0.4],"labelExpr":"datum.value == 0 ? '0' : replace(format(datum.value, '.1f'), '\u2212', '-')","title":"SL asymmetry","tickSize":-4,"labelPadding":7,"titlePadding":4,"offset":-6}},
"color":{"field":"c","type":"nominal","scale":{"domain":["g","o","m","k","b"],"range":["#16a04e","#f6921e","#e4178a","#231f20","#1badea"]},"legend":null}},
"layer":[
{"data":{"name":"baseB"},"mark":{"type":"line","strokeWidth":5,"opacity":0.25}},
{"data":{"name":"baseB"},"mark":{"type":"line","strokeWidth":1.1}},
{"data":{"values":[{"x":56,"x2":95,"y":0}]},"mark":{"type":"rule","strokeWidth":1.3},"encoding":{"x2":{"field":"x2"},"color":{"value":"#231f20"}}},
{"data":{"values":[{"x":25,"x2":75,"y":-0.3}]},"mark":{"type":"rule","strokeWidth":1.2},"encoding":{"x2":{"field":"x2"},"color":{"value":"#231f20"}}},
{"data":{"values":[{"x":25,"y":0.4,"t":"B"}]},"mark":{"type":"text","fontSize":19,"fontWeight":"bold","align":"left","baseline":"alphabetic","dx":-61,"dy":-10},"encoding":{"text":{"field":"t"},"color":{"value":"#231f20"}}},
{"data":{"values":[{"x":25,"y":0.4,"t":"gradual"}]},"mark":{"type":"text","fontSize":17.5,"align":"left","baseline":"alphabetic","dx":16,"dy":3},"encoding":{"text":{"field":"t"},"color":{"value":"#231f20"}}}
]},
{"width":393,"height":189,
"encoding":{"x":{"field":"x","type":"quantitative","scale":{"domain":[0,968],"nice":false,"zero":false},"axis":{"values":[0,100,200,300,400,500,600,700,800],"title":"stride number","domain":false,"tickSize":-4,"labelPadding":7,"labelFlush":false,"labelOverlap":false,"titlePadding":4,"titleFontSize":16,"titleX":193}},
"y":{"field":"y","type":"quantitative","scale":{"domain":[-0.3,0.4],"nice":false,"zero":false},"axis":null},
"color":{"field":"c","type":"nominal","scale":{"domain":["g","o","m","k","b"],"range":["#16a04e","#f6921e","#e4178a","#231f20","#1badea"]},"legend":null}},
"layer":[
{"data":{"values":[{"c":"k","x":763.1,"x2":828.8,"y":0.505,"y2":0.462},{"c":"b","x":763.1,"x2":828.8,"y":0.443,"y2":0.4}]},"mark":"rect","encoding":{"x2":{"field":"x2"},"y2":{"field":"y2"}}},
{"data":{"values":[{"id":"k","c":"k","x":634.2,"y":0.462,"y2":0.462},{"id":"k","c":"k","x":697.5,"y":0.505,"y2":0.462},{"id":"b","c":"b","x":571.0,"y":0.4,"y2":0.4},{"id":"b","c":"b","x":634.2,"y":0.443,"y2":0.4},{"id":"b","c":"b","x":697.5,"y":0.443,"y2":0.4}]},"mark":{"type":"area","orient":"vertical"},"encoding":{"y":{"field":"y","type":"quantitative","stack":null,"axis":null},"y2":{"field":"y2"},"detail":{"field":"id"}}},
{"data":{"values":[{"c":"k","x":697.5,"x2":763.1,"y":0.463},{"c":"b","x":697.5,"x2":763.1,"y":0.401}]},"mark":{"type":"rule","strokeWidth":1.2},"encoding":{"x2":{"field":"x2"}}},
{"data":{"values":[{"x":556.2,"x2":710.6,"y":0.547,"y2":0.349}]},"mark":{"type":"rect","filled":false,"strokeWidth":1.5},"encoding":{"x2":{"field":"x2"},"y2":{"field":"y2"},"color":{"value":"#8c8c8c"}}},
{"data":{"name":"adB"},"mark":{"type":"line","strokeWidth":5,"opacity":0.25}},
{"data":{"name":"adB"},"mark":{"type":"line","strokeWidth":1.1}},
{"data":{"values":[{"x":0,"x2":950,"y":0}]},"mark":{"type":"rule","strokeWidth":1.3},"encoding":{"x2":{"field":"x2"},"color":{"value":"#231f20"}}},
{"data":{"values":[{"x":0,"x2":950,"y":-0.3}]},"mark":{"type":"rule","strokeWidth":1.2},"encoding":{"x2":{"field":"x2"},"color":{"value":"#231f20"}}},
{"data":{"values":[{"c":"b","x":932,"y":-0.037,"e":0.009},{"c":"k","x":932,"y":-0.075,"e":0.008}]},"mark":{"type":"errorbar","ticks":true,"size":7,"thickness":1.5},"encoding":{"yError":{"field":"e"}}},
{"data":{"values":[{"c":"b","x":932,"y":-0.037},{"c":"k","x":932,"y":-0.075}]},"mark":{"type":"point","shape":"square","filled":true,"size":20,"opacity":1}},
{"data":{"values":[{"x":207,"y":0.267,"t":"adapt 1"}]},"mark":{"type":"text","fontSize":15,"align":"center","baseline":"alphabetic"},"encoding":{"text":{"field":"t"},"color":{"value":"#231f20"}}},
{"data":{"values":[{"x":898,"y":-0.3,"t":"//"}]},"mark":{"type":"text","fontSize":14,"fontWeight":"bold","align":"center","baseline":"middle"},"encoding":{"text":{"field":"t"},"color":{"value":"#231f20"}}}
]},
{"width":184,"height":189,
"encoding":{"x":{"field":"x","type":"quantitative","scale":{"domain":[0,455],"nice":false,"zero":false},"axis":{"values":[0,100,200,300],"title":null,"tickSize":-4,"labelPadding":7,"labelFlush":false,"labelOverlap":false}},
"y":{"field":"y","type":"quantitative","scale":{"domain":[-0.3,0.4],"nice":false,"zero":false},"axis":null},
"color":{"field":"c","type":"nominal","scale":{"domain":["g","o","m","k","b"],"range":["#16a04e","#f6921e","#e4178a","#231f20","#1badea"]},"legend":null}},
"layer":[
{"data":{"values":[{"c":"k","x":476.5,"x2":540.7,"y":0.505,"y2":0.462},{"c":"b","x":476.5,"x2":540.7,"y":0.443,"y2":0.4}]},"mark":"rect","encoding":{"x2":{"field":"x2"},"y2":{"field":"y2"}}},
{"data":{"values":[{"id":"k","c":"k","x":347.4,"y":0.462,"y2":0.462},{"id":"k","c":"k","x":411.6,"y":0.505,"y2":0.462},{"id":"b","c":"b","x":283.2,"y":0.4,"y2":0.4},{"id":"b","c":"b","x":347.4,"y":0.443,"y2":0.4},{"id":"b","c":"b","x":411.6,"y":0.443,"y2":0.4}]},"mark":{"type":"area","orient":"vertical"},"encoding":{"y":{"field":"y","type":"quantitative","stack":null,"axis":null},"y2":{"field":"y2"},"detail":{"field":"id"}}},
{"data":{"values":[{"c":"k","x":411.6,"x2":476.5,"y":0.463},{"c":"b","x":411.6,"x2":476.5,"y":0.401}]},"mark":{"type":"rule","strokeWidth":1.2},"encoding":{"x2":{"field":"x2"}}},
{"data":{"values":[{"x":400.7,"x2":483.2,"y":0.551,"y2":0.349}]},"mark":{"type":"rect","filled":false,"strokeWidth":1.5},"encoding":{"x2":{"field":"x2"},"y2":{"field":"y2"},"color":{"value":"#8c8c8c"}}},
{"data":{"name":"deB"},"mark":{"type":"line","strokeWidth":5,"opacity":0.25}},
{"data":{"name":"deB"},"mark":{"type":"line","strokeWidth":1.1}},
{"data":{"values":[{"x":0,"x2":455,"y":0}]},"mark":{"type":"rule","strokeWidth":1.3},"encoding":{"x2":{"field":"x2"},"color":{"value":"#231f20"}}},
{"data":{"values":[{"c":"b","x":437,"y":0.052,"e":0.015},{"c":"k","x":437,"y":0.012,"e":0.012}]},"mark":{"type":"errorbar","ticks":true,"size":7,"thickness":1.5},"encoding":{"yError":{"field":"e"}}},
{"data":{"values":[{"c":"b","x":437,"y":0.052},{"c":"k","x":437,"y":0.012}]},"mark":{"type":"point","shape":"square","filled":true,"size":20,"opacity":1}},
{"data":{"values":[{"x":214,"y":0.267,"t":"de-adapt"}]},"mark":{"type":"text","fontSize":15,"align":"center","baseline":"alphabetic"},"encoding":{"text":{"field":"t"},"color":{"value":"#231f20"}}},
{"data":{"values":[{"x":405,"y":-0.3,"t":"//"}]},"mark":{"type":"text","fontSize":14,"fontWeight":"bold","align":"center","baseline":"middle"},"encoding":{"text":{"field":"t"},"color":{"value":"#231f20"}}}
]}
]},
{"spacing":42,"hconcat":[
{"bounds":"flush","spacing":5.5,"hconcat":[
{"width":95,"height":69,
"layer":[
{"data":{"name":"cL"},"transform":[{"filter":"datum.g === 'p'"}],"mark":{"type":"bar","stroke":"#231f20","strokeWidth":1},"encoding":{"x":{"field":"c","type":"nominal","scale":{"domain":["g","o","m","k","b"],"paddingInner":0.16,"paddingOuter":0.02},"axis":null},"y":{"field":"v","type":"quantitative","scale":{"domain":[-0.285,0.06],"nice":false,"zero":false},"axis":{"values":[-0.2,0],"labelExpr":"datum.value == 0 ? '0' : format(datum.value, '.1f')","title":null,"tickSize":3,"labelPadding":2}},"color":{"field":"c","type":"nominal","scale":{"domain":["g","o","m","k","b"],"range":["#16a04e","#f6921e","#e4178a","#231f20","#1badea"]},"legend":null}}},
{"data":{"values":[{"z":0}]},"mark":{"type":"rule","strokeWidth":1.4,"color":"#3a3a3a"},"encoding":{"y":{"field":"z","type":"quantitative"}}},
{"data":{"name":"cL"},"transform":[{"filter":"datum.g === 'p'"}],"mark":{"type":"errorbar","ticks":true,"size":8,"thickness":1.3,"color":"#231f20"},"encoding":{"x":{"field":"c","type":"nominal","axis":null},"y":{"field":"v","type":"quantitative"},"yError":{"field":"e"}}},
{"data":{"values":[{"c":"g","v":0.06,"t":"adapt 1"}]},"mark":{"type":"text","fontSize":14.5,"align":"left","baseline":"alphabetic","dx":-22.3,"dy":-22.3,"color":"#231f20"},"encoding":{"x":{"field":"c","type":"nominal","axis":null},"y":{"field":"v","type":"quantitative"},"text":{"field":"t"}}},
{"data":{"values":[{"c":"g","v":0.06,"t":"C"}]},"mark":{"type":"text","fontSize":19,"fontWeight":"bold","align":"left","baseline":"alphabetic","dx":-63.6,"dy":-40,"color":"#231f20"},"encoding":{"x":{"field":"c","type":"nominal","axis":null},"y":{"field":"v","type":"quantitative"},"text":{"field":"t"}}},
{"data":{"values":[{"c":"m","v":0.06,"t":"perturbation"}]},"mark":{"type":"text","fontSize":13.5,"align":"center","baseline":"alphabetic","dy":-6.3,"color":"#231f20"},"encoding":{"x":{"field":"c","type":"nominal","axis":null},"y":{"field":"v","type":"quantitative"},"text":{"field":"t"}}}
]},
{"width":94,"height":69,
"layer":[
{"data":{"name":"cL"},"transform":[{"filter":"datum.g === 'e'"}],"mark":{"type":"bar","stroke":"#231f20","strokeWidth":1},"encoding":{"x":{"field":"c","type":"nominal","scale":{"domain":["g","o","m","k","b"],"paddingInner":0.16,"paddingOuter":0.02},"axis":null},"y":{"field":"v","type":"quantitative","scale":{"domain":[-0.285,0.06],"nice":false,"zero":false},"axis":null},"color":{"field":"c","type":"nominal","scale":{"domain":["g","o","m","k","b"],"range":["#16a04e","#f6921e","#e4178a","#231f20","#1badea"]},"legend":null}}},
{"data":{"values":[{"z":0}]},"mark":{"type":"rule","strokeWidth":1.4,"color":"#3a3a3a"},"encoding":{"y":{"field":"z","type":"quantitative","axis":null}}},
{"data":{"name":"cL"},"transform":[{"filter":"datum.g === 'e'"}],"mark":{"type":"errorbar","ticks":true,"size":8,"thickness":1.3,"color":"#231f20"},"encoding":{"x":{"field":"c","type":"nominal","axis":null},"y":{"field":"v","type":"quantitative","axis":null},"yError":{"field":"e"}}},
{"data":{"values":[{"c":"m","v":0.06,"t":"early Δ"}]},"mark":{"type":"text","fontSize":13.5,"align":"center","baseline":"alphabetic","dy":-6.3,"color":"#231f20"},"encoding":{"x":{"field":"c","type":"nominal","axis":null},"y":{"field":"v","type":"quantitative","axis":null},"text":{"field":"t"}}}
]},
{"width":95,"height":69,
"layer":[
{"data":{"name":"cL"},"transform":[{"filter":"datum.g === 'l'"}],"mark":{"type":"bar","stroke":"#231f20","strokeWidth":1},"encoding":{"x":{"field":"c","type":"nominal","scale":{"domain":["g","o","m","k","b"],"paddingInner":0.16,"paddingOuter":0.02},"axis":null},"y":{"field":"v","type":"quantitative","scale":{"domain":[-0.285,0.06],"nice":false,"zero":false},"axis":null},"color":{"field":"c","type":"nominal","scale":{"domain":["g","o","m","k","b"],"range":["#16a04e","#f6921e","#e4178a","#231f20","#1badea"]},"legend":null}}},
{"data":{"values":[{"z":0}]},"mark":{"type":"rule","strokeWidth":1.4,"color":"#3a3a3a"},"encoding":{"y":{"field":"z","type":"quantitative","axis":null}}},
{"data":{"name":"cL"},"transform":[{"filter":"datum.g === 'l'"}],"mark":{"type":"errorbar","ticks":true,"size":8,"thickness":1.3,"color":"#231f20"},"encoding":{"x":{"field":"c","type":"nominal","axis":null},"y":{"field":"v","type":"quantitative","axis":null},"yError":{"field":"e"}}},
{"data":{"values":[{"c":"m","v":0.06,"t":"plateau"}]},"mark":{"type":"text","fontSize":13.5,"align":"center","baseline":"alphabetic","dy":-6.3,"color":"#231f20"},"encoding":{"x":{"field":"c","type":"nominal","axis":null},"y":{"field":"v","type":"quantitative","axis":null},"text":{"field":"t"}}}
]}
]},
{"bounds":"flush","spacing":20.5,"hconcat":[
{"width":95,"height":69,
"layer":[
{"data":{"name":"cR"},"transform":[{"filter":"datum.g === 'p'"}],"mark":{"type":"bar","stroke":"#231f20","strokeWidth":1},"encoding":{"x":{"field":"c","type":"nominal","scale":{"domain":["g","o","m","k","b"],"paddingInner":0.16,"paddingOuter":0.06},"axis":null},"y":{"field":"v","type":"quantitative","scale":{"domain":[-0.07,0.356],"nice":false,"zero":false},"axis":{"values":[0,0.2],"labelExpr":"datum.value == 0 ? '0' : format(datum.value, '.1f')","title":null,"tickSize":3,"labelPadding":2}},"color":{"field":"c","type":"nominal","scale":{"domain":["g","o","m","k","b"],"range":["#16a04e","#f6921e","#e4178a","#231f20","#1badea"]},"legend":null}}},
{"data":{"values":[{"z":0}]},"mark":{"type":"rule","strokeWidth":1.4,"color":"#3a3a3a"},"encoding":{"y":{"field":"z","type":"quantitative"}}},
{"data":{"name":"cR"},"transform":[{"filter":"datum.g === 'p'"}],"mark":{"type":"errorbar","ticks":true,"size":8,"thickness":1.3,"color":"#231f20"},"encoding":{"x":{"field":"c","type":"nominal","axis":null},"y":{"field":"v","type":"quantitative"},"yError":{"field":"e"}}},
{"data":{"values":[{"c":"g","v":0.356,"t":"de-adapt"}]},"mark":{"type":"text","fontSize":14.5,"align":"left","baseline":"alphabetic","dx":-26.2,"dy":-25.3,"color":"#231f20"},"encoding":{"x":{"field":"c","type":"nominal","axis":null},"y":{"field":"v","type":"quantitative"},"text":{"field":"t"}}},
{"data":{"values":[{"c":"g","v":0.356,"t":"C"}]},"mark":{"type":"text","fontSize":19,"fontWeight":"bold","align":"left","baseline":"alphabetic","dy":-40,"opacity":0},"encoding":{"x":{"field":"c","type":"nominal","axis":null},"y":{"field":"v","type":"quantitative"},"text":{"field":"t"}}},
{"data":{"values":[{"c":"m","v":0.356,"t":"perturbation"}]},"mark":{"type":"text","fontSize":13.5,"align":"center","baseline":"alphabetic","dx":1.5,"dy":-6.3,"color":"#231f20"},"encoding":{"x":{"field":"c","type":"nominal","axis":null},"y":{"field":"v","type":"quantitative"},"text":{"field":"t"}}}
]},
{"width":95,"height":69,
"layer":[
{"data":{"name":"cR"},"transform":[{"filter":"datum.g === 'e'"}],"mark":{"type":"bar","stroke":"#231f20","strokeWidth":1},"encoding":{"x":{"field":"c","type":"nominal","scale":{"domain":["g","o","m","k","b"],"paddingInner":0.16,"paddingOuter":0.02},"axis":null},"y":{"field":"v","type":"quantitative","scale":{"domain":[-0.07,0.356],"nice":false,"zero":false},"axis":null},"color":{"field":"c","type":"nominal","scale":{"domain":["g","o","m","k","b"],"range":["#16a04e","#f6921e","#e4178a","#231f20","#1badea"]},"legend":null}}},
{"data":{"values":[{"z":0}]},"mark":{"type":"rule","strokeWidth":1.4,"color":"#3a3a3a"},"encoding":{"y":{"field":"z","type":"quantitative","axis":null}}},
{"data":{"name":"cR"},"transform":[{"filter":"datum.g === 'e'"}],"mark":{"type":"errorbar","ticks":true,"size":8,"thickness":1.3,"color":"#231f20"},"encoding":{"x":{"field":"c","type":"nominal","axis":null},"y":{"field":"v","type":"quantitative","axis":null},"yError":{"field":"e"}}},
{"data":{"values":[{"c":"m","v":0.356,"t":"early Δ"}]},"mark":{"type":"text","fontSize":13.5,"align":"center","baseline":"alphabetic","dx":8,"dy":-6.3,"color":"#231f20"},"encoding":{"x":{"field":"c","type":"nominal","axis":null},"y":{"field":"v","type":"quantitative","axis":null},"text":{"field":"t"}}}
]},
{"width":94,"height":69,
"layer":[
{"data":{"name":"cR"},"transform":[{"filter":"datum.g === 'l'"}],"mark":{"type":"bar","stroke":"#231f20","strokeWidth":1},"encoding":{"x":{"field":"c","type":"nominal","scale":{"domain":["g","o","m","k","b"],"paddingInner":0.16,"paddingOuter":0.02},"axis":null},"y":{"field":"v","type":"quantitative","scale":{"domain":[-0.07,0.356],"nice":false,"zero":false},"axis":null},"color":{"field":"c","type":"nominal","scale":{"domain":["g","o","m","k","b"],"range":["#16a04e","#f6921e","#e4178a","#231f20","#1badea"]},"legend":null}}},
{"data":{"values":[{"z":0}]},"mark":{"type":"rule","strokeWidth":1.4,"color":"#3a3a3a"},"encoding":{"y":{"field":"z","type":"quantitative","axis":null}}},
{"data":{"name":"cR"},"transform":[{"filter":"datum.g === 'l'"}],"mark":{"type":"errorbar","ticks":true,"size":8,"thickness":1.3,"color":"#231f20"},"encoding":{"x":{"field":"c","type":"nominal","axis":null},"y":{"field":"v","type":"quantitative","axis":null},"yError":{"field":"e"}}},
{"data":{"values":[{"c":"m","v":0.356,"t":"plateau"}]},"mark":{"type":"text","fontSize":13.5,"align":"center","baseline":"alphabetic","dx":3,"dy":-6.3,"color":"#231f20"},"encoding":{"x":{"field":"c","type":"nominal","axis":null},"y":{"field":"v","type":"quantitative","axis":null},"text":{"field":"t"}}}
]}
]}
]}
]
}
